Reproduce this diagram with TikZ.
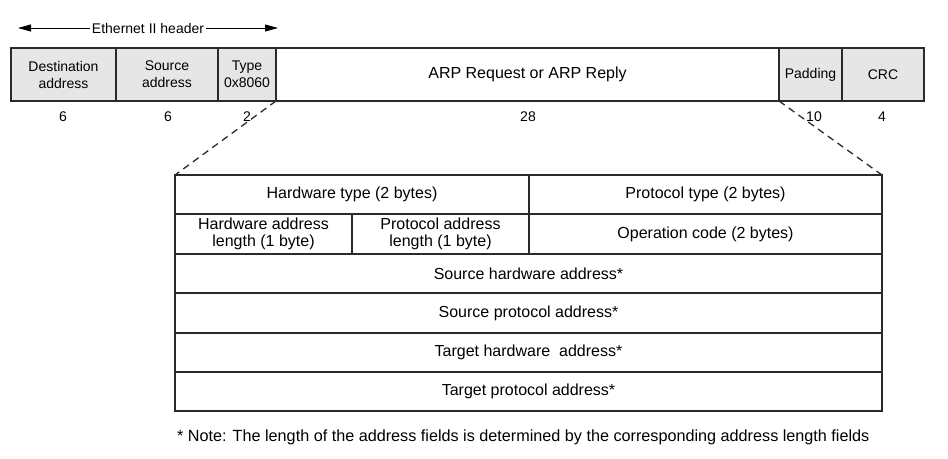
\documentclass[tikz,border=0pt]{standalone}
\usepackage{fontspec}
\setmainfont{Liberation Sans}
\usetikzlibrary{arrows.meta}
\definecolor{fieldgray}{HTML}{E6E6E6}
\definecolor{edge}{HTML}{2A2A2A}
\begin{document}
\begin{tikzpicture}[x=1pt,y=-1pt,
  field/.style={draw=edge, line width=1.3pt, inner sep=0pt, outer sep=0pt,
    anchor=north west, align=center, font=\fontsize{14}{17}\selectfont},
  hdr/.style={field, fill=fieldgray},
  cell/.style={field, fill=white, font=\fontsize{16}{17.5}\selectfont},
  size/.style={inner sep=0pt, font=\fontsize{14}{17}\selectfont},
  zoomline/.style={draw=edge, line width=1.3pt, dash pattern=on 7pt off 5pt},
  span/.style={draw=black, line width=0.8pt, -{Triangle[length=13pt,width=7pt]}}]
\useasboundingbox (0,0) rectangle (948,458);

% Ethernet II frame
\node[hdr, minimum width=105pt, minimum height=53pt] (dst) at (11,48) {Destination\\address};
\node[hdr, minimum width=102pt, minimum height=53pt] (src) at (116,48) {Source\\address};
\node[hdr, minimum width=58pt,  minimum height=53pt] (typ) at (218,48) {Type\\0x8060};
\node[field, fill=white, minimum width=503pt, minimum height=53pt,
      font=\fontsize{16}{18}\selectfont] (arp) at (276,48) {ARP Request or ARP Reply};
\node[hdr, minimum width=63pt,  minimum height=53pt] (pad) at (779,48) {Padding};
\node[hdr, minimum width=82pt,  minimum height=53pt] (crc) at (842,48) {CRC};

% field lengths in bytes
\node[size] (ndst) at (63,117) {6};
\node[size] (nsrc) at (168,117) {6};
\node[size] (ntyp) at (247,117) {2};
\node[size] (narp) at (528,117) {28};
\node[size] (npad) at (814,117) {10};
\node[size] (ncrc) at (882,117) {4};

% header span arrow
\node[inner sep=2pt, font=\fontsize{14}{17}\selectfont] (eth) at (148,28) {Ethernet II header};
\coordinate (ethL) at (18,28);
\coordinate (ethR) at (278,28);
\draw[span] (eth.west) -- (ethL);
\draw[span] (eth.east) -- (ethR);

% ARP packet layout
\node[cell, minimum width=354pt, minimum height=39pt] (hwt) at (175,175) {Hardware type (2 bytes)};
\node[cell, minimum width=353pt, minimum height=39pt] (prt) at (529,175) {Protocol type (2 bytes)};
\node[cell, minimum width=177pt, minimum height=40pt] (hal) at (175,214) {Hardware address\\length (1 byte)};
\node[cell, minimum width=177pt, minimum height=40pt] (pal) at (352,214) {Protocol address\\length (1 byte)};
\node[cell, minimum width=353pt, minimum height=40pt] (opc) at (529,214) {Operation code (2 bytes)};
\node[cell, minimum width=707pt, minimum height=39pt] (sha) at (175,254) {Source hardware address*};
\node[cell, minimum width=707pt, minimum height=40pt] (spa) at (175,293) {Source protocol address*};
\node[cell, minimum width=707pt, minimum height=39pt] (tha) at (175,333) {Target hardware~ address*};
\node[cell, minimum width=707pt, minimum height=39pt] (tpa) at (175,372) {Target protocol address*};

% expansion lines
\draw[zoomline] (arp.south west) -- (hwt.north west);
\draw[zoomline] (arp.south east) -- (prt.north east);

% footnote
\node[anchor=west, inner sep=0pt, font=\fontsize{16.2}{18}\selectfont] (note) at (177,437)
  {* Note: The length of the address fields is determined by the corresponding address length fields};
\end{tikzpicture}
\end{document}
